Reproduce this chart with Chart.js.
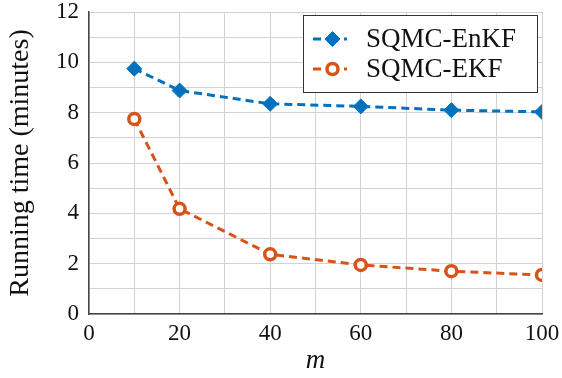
<!DOCTYPE html>
<html>
<head>
<meta charset="utf-8">
<script src="https://cdn.jsdelivr.net/npm/chart.js@4/dist/chart.umd.min.js"></script>
<style>
  html, body { margin: 0; padding: 0; background: #fff; }
  #wrap { width: 562px; height: 378px; }
</style>
</head>
<body>
<div id="wrap"><canvas id="myChart" width="562" height="378"></canvas></div>
<script>
// Tamaños de ensemble y tiempos medidos (minutos)
const mValues = [10, 20, 40, 60, 80, 100];
const enkfTimes = [9.75, 8.88, 8.35, 8.25, 8.1, 8.03];
const ekfTimes = [7.75, 4.18, 2.37, 1.95, 1.7, 1.55];
const seriesNames = ['SQMC-EnKF', 'SQMC-EKF'];

const BLUE = '#0072BD';
const ORANGE = '#D95319';
const SERIF = '"Liberation Serif", "Times New Roman", serif';

// Sin relleno extra por las etiquetas de los extremos
function fixPadding(scale) {
  scale.paddingTop = 0;
  scale.paddingBottom = 0;
  scale.paddingLeft = 0;
  scale.paddingRight = 0;
}

// Leyenda con recuadro dentro del área del gráfico (esquina superior derecha)
const boxLegend = {
  id: 'boxLegend',
  afterDraw(chart) {
    const ctx = chart.ctx;
    const area = chart.chartArea;
    const x0 = area.right - 239, y0 = area.top + 3;
    const w = 234, h = 77;
    ctx.save();
    ctx.fillStyle = '#fff';
    ctx.fillRect(x0, y0, w, h);
    ctx.strokeStyle = '#333';
    ctx.lineWidth = 1;
    ctx.strokeRect(x0 + 0.5, y0 + 0.5, w, h);

    chart.data.datasets.forEach((ds, i) => {
      const cy = y0 + 24 + i * 30;
      const lx = x0 + 10, rx = x0 + 49, cx = x0 + 29.5;
      // tramo de línea discontinua
      ctx.strokeStyle = ds.borderColor;
      ctx.lineWidth = ds.borderWidth;
      ctx.setLineDash(ds.borderDash);
      ctx.beginPath();
      ctx.moveTo(lx, cy);
      ctx.lineTo(rx, cy);
      ctx.stroke();
      ctx.setLineDash([]);
      ctx.fillStyle = '#fff';
      ctx.fillRect(lx + 8, cy - 4, 23, 8);
      // marcador
      ctx.fillStyle = ds.pointBackgroundColor;
      ctx.strokeStyle = ds.pointBorderColor;
      ctx.lineWidth = ds.pointBorderWidth;
      Chart.helpers.drawPoint(ctx, {
        pointStyle: ds.pointStyle, rotation: 0, radius: ds.pointRadius, borderWidth: ds.pointBorderWidth
      }, cx, cy);
      ctx.fillStyle = '#111';
      ctx.font = '27px ' + SERIF;
      ctx.textBaseline = 'middle';
      ctx.textAlign = 'left';
      ctx.fillText(ds.label, x0 + 63, cy + 1);
    });
    ctx.restore();
  }
};

const ctx = document.getElementById('myChart').getContext('2d');
const chart = new Chart(ctx, {
  type: 'line',
  data: {
    datasets: [
      {
        label: seriesNames[0],
        data: mValues.map((m, i) => ({ x: m, y: enkfTimes[i] })),
        borderColor: BLUE,
        borderWidth: 3,
        borderDash: [8, 5],
        pointStyle: 'rectRot',
        pointRadius: 7.5,
        pointBackgroundColor: BLUE,
        pointBorderColor: BLUE,
        pointBorderWidth: 1,
        fill: false
      },
      {
        label: seriesNames[1],
        data: mValues.map((m, i) => ({ x: m, y: ekfTimes[i] })),
        borderColor: ORANGE,
        borderWidth: 3,
        borderDash: [8, 5],
        pointStyle: 'circle',
        pointRadius: 5.5,
        pointBackgroundColor: '#fff',
        pointBorderColor: ORANGE,
        pointBorderWidth: 3.5,
        fill: false
      }
    ]
  },
  options: {
    responsive: false,
    animation: false,
    layout: { autoPadding: false, padding: { left: 0, right: 20, top: 12, bottom: 0 } },
    plugins: {
      legend: { display: false },
      tooltip: { enabled: false }
    },
    scales: {
      x: {
        type: 'linear',
        min: 0,
        max: 100,
        afterFit: (scale) => { scale.height = 64; fixPadding(scale); },
        ticks: {
          stepSize: 10,
          autoSkip: false,
          maxRotation: 0,
          padding: 6,
          color: '#111',
          font: { family: SERIF, size: 23 },
          callback: (v) => (v % 20 === 0 ? v : '')
        },
        grid: { color: '#d2d2d2', lineWidth: 1, drawTicks: false },
        border: { color: '#444', width: 1.5 },
        title: {
          display: true,
          text: 'm',
          color: '#111',
          font: { family: SERIF, size: 27, style: 'italic' },
          padding: { top: 0, bottom: 1 }
        }
      },
      y: {
        min: 0,
        max: 12,
        afterFit: (scale) => { scale.width = 89; fixPadding(scale); },
        ticks: {
          stepSize: 1,
          autoSkip: false,
          padding: 10,
          color: '#111',
          font: { family: SERIF, size: 23 },
          callback: (v) => (v % 2 === 0 ? v : '')
        },
        grid: { color: '#d2d2d2', lineWidth: 1, drawTicks: false },
        border: { color: '#444', width: 1.5 },
        title: {
          display: true,
          text: 'Running time (minutes)',
          color: '#111',
          font: { family: SERIF, size: 28 },
          padding: { top: 4, bottom: 0 }
        }
      }
    }
  },
  plugins: [boxLegend]
});
</script>
</body>
</html>
